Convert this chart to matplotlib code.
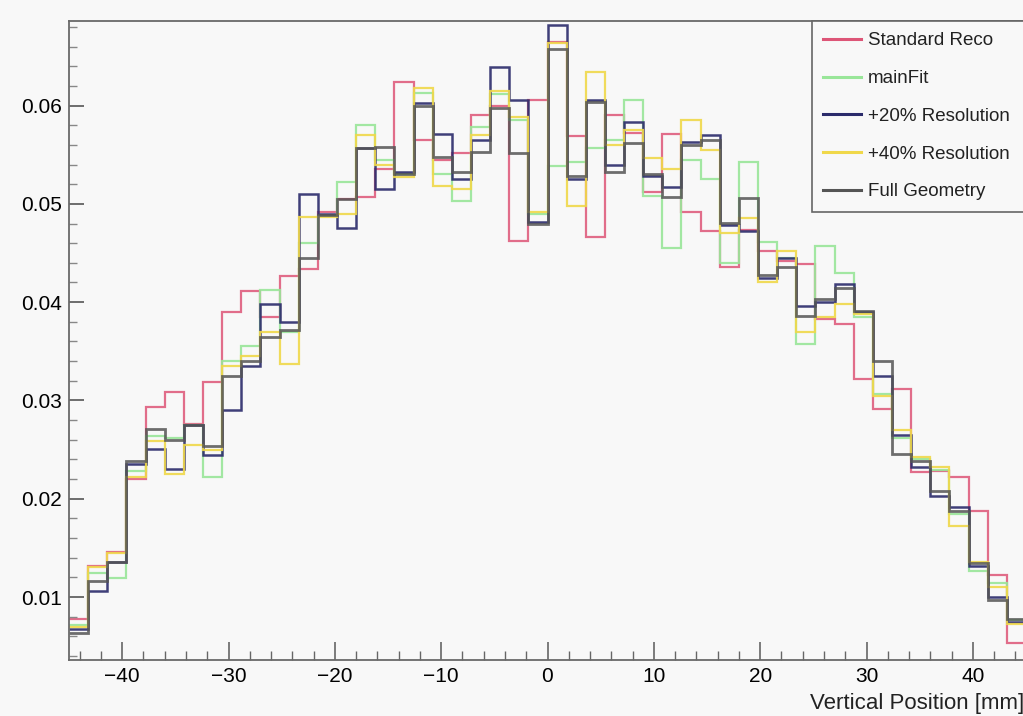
import numpy as np
import matplotlib
matplotlib.use("Agg")
import matplotlib.pyplot as plt
from matplotlib.ticker import MultipleLocator, FixedLocator

plt.rcParams['font.family'] = ['Liberation Sans', 'DejaVu Sans']

# ---- data (bin contents, 50 bins of 1.8 mm from -45 to 45) ----
x_min, x_max, n_bins = -45.0, 45.0, 50

standard_reco = [0.0078, 0.0132, 0.0146, 0.0220, 0.0293, 0.0309, 0.0276, 0.0319, 0.0390, 0.0411,
                 0.0385, 0.0427, 0.0434, 0.0492, 0.0505, 0.0507, 0.0535, 0.0624, 0.0565, 0.0545,
                 0.0552, 0.0590, 0.0600, 0.0462, 0.0606, 0.0665, 0.0569, 0.0466, 0.0590, 0.0572,
                 0.0512, 0.0571, 0.0492, 0.0472, 0.0436, 0.0473, 0.0452, 0.0442, 0.0439, 0.0383,
                 0.0378, 0.0322, 0.0291, 0.0312, 0.0227, 0.0228, 0.0222, 0.0188, 0.0122, 0.0053]

main_fit = [0.0072, 0.0124, 0.0119, 0.0228, 0.0264, 0.0262, 0.0275, 0.0222, 0.0340, 0.0355,
            0.0412, 0.0370, 0.0460, 0.0488, 0.0522, 0.0580, 0.0545, 0.0530, 0.0613, 0.0530,
            0.0503, 0.0578, 0.0612, 0.0585, 0.0490, 0.0538, 0.0543, 0.0557, 0.0565, 0.0606,
            0.0508, 0.0455, 0.0545, 0.0525, 0.0440, 0.0543, 0.0461, 0.0445, 0.0357, 0.0457,
            0.0430, 0.0385, 0.0307, 0.0262, 0.0240, 0.0229, 0.0185, 0.0127, 0.0114, 0.0077]

res_20 = [0.0068, 0.0106, 0.0136, 0.0235, 0.0251, 0.0230, 0.0275, 0.0245, 0.0290, 0.0335,
          0.0398, 0.0380, 0.0510, 0.0490, 0.0475, 0.0557, 0.0515, 0.0532, 0.0603, 0.0571,
          0.0525, 0.0565, 0.0639, 0.0606, 0.0482, 0.0682, 0.0525, 0.0606, 0.0540, 0.0583,
          0.0528, 0.0517, 0.0563, 0.0570, 0.0478, 0.0472, 0.0425, 0.0445, 0.0396, 0.0400,
          0.0418, 0.0390, 0.0325, 0.0265, 0.0232, 0.0203, 0.0192, 0.0132, 0.0100, 0.0075]

res_40 = [0.0070, 0.0131, 0.0145, 0.0222, 0.0259, 0.0225, 0.0255, 0.0250, 0.0335, 0.0345,
          0.0370, 0.0337, 0.0487, 0.0487, 0.0490, 0.0570, 0.0540, 0.0527, 0.0618, 0.0518,
          0.0515, 0.0570, 0.0615, 0.0588, 0.0492, 0.0664, 0.0498, 0.0634, 0.0560, 0.0575,
          0.0547, 0.0535, 0.0585, 0.0555, 0.0470, 0.0486, 0.0420, 0.0452, 0.0370, 0.0385,
          0.0398, 0.0388, 0.0305, 0.0270, 0.0242, 0.0232, 0.0172, 0.0136, 0.0110, 0.0073]

full_geometry = [0.0063, 0.0116, 0.0136, 0.0238, 0.0271, 0.0260, 0.0275, 0.0254, 0.0325, 0.0340,
                 0.0365, 0.0372, 0.0445, 0.0489, 0.0505, 0.0557, 0.0558, 0.0530, 0.0600, 0.0548,
                 0.0532, 0.0553, 0.0598, 0.0552, 0.0480, 0.0658, 0.0528, 0.0604, 0.0532, 0.0562,
                 0.0530, 0.0507, 0.0560, 0.0565, 0.0481, 0.0506, 0.0428, 0.0436, 0.0386, 0.0403,
                 0.0414, 0.0391, 0.0340, 0.0246, 0.0238, 0.0208, 0.0188, 0.0135, 0.0097, 0.0078]

series_labels = ["Standard Reco", "mainFit", "+20% Resolution", "+40% Resolution", "Full Geometry"]
x_ticks = [-40, -30, -20, -10, 0, 10, 20, 30, 40]
x_tick_labels = ["\u221240", "\u221230", "\u221220", "\u221210", "0", "10", "20", "30", "40"]
y_ticks = [0.01, 0.02, 0.03, 0.04, 0.05, 0.06]
y_tick_labels = ["0.01", "0.02", "0.03", "0.04", "0.05", "0.06"]
x_label = "Vertical Position [mm]"

# ---- styling ----
colors = ["#dd5577", "#99e699", "#2b2b6b", "#f0d84a", "#555555"]
widths = [1.6, 1.6, 1.8, 1.6, 2.0]
alphas = [0.85, 0.9, 0.9, 0.9, 0.85]
bg = "#f8f8f8"

W, H = 1023, 716
fig = plt.figure(figsize=(W / 100, H / 100), dpi=100, facecolor=bg)
ax = fig.add_axes([69 / W, 1 - 660 / H, (1026 - 69) / W, (660 - 21) / H], facecolor=bg)

edges = np.linspace(x_min, x_max, n_bins + 1)
all_series = [standard_reco, main_fit, res_20, res_40, full_geometry]
for vals, lab, c, lw, a in zip(all_series, series_labels, colors, widths, alphas):
    ax.stairs(vals, edges, color=c, lw=lw, alpha=a, label=lab, baseline=None)

ax.set_xlim(x_min, x_max)
ax.set_ylim(0.0036, 0.0686)

ax.xaxis.set_major_locator(FixedLocator(x_ticks))
ax.xaxis.set_minor_locator(MultipleLocator(2))
ax.yaxis.set_major_locator(FixedLocator(y_ticks))
ax.set_yticklabels(y_tick_labels)
ax.yaxis.set_minor_locator(MultipleLocator(0.002))
ax.set_xticklabels(x_tick_labels)

ax.tick_params(axis='x', which='major', direction='in', length=13, width=1.2,
               color='#666666', labelsize=15, pad=5, top=False)
ax.tick_params(axis='x', which='minor', direction='in', length=6.5, width=1.0,
               color='#666666', top=False)
ax.tick_params(axis='y', which='major', direction='in', length=11, width=1.2,
               color='#555555', labelsize=15, pad=5, right=False)
ax.tick_params(axis='y', which='minor', direction='in', length=6, width=1.0,
               color='#888888', right=False)

for side in ['left', 'bottom', 'top']:
    ax.spines[side].set_color('#6a6a6a')
    ax.spines[side].set_linewidth(1.3)
ax.spines['right'].set_visible(False)

fig.text(1024 / W, 1 - 704 / H, x_label, ha='right', va='center', fontsize=16, color='#222222')

leg = ax.legend(loc='upper left', bbox_to_anchor=(812 / W, 1 - 212 / H, 0.25, 191 / H),
                bbox_transform=fig.transFigure, mode='expand', fontsize=13.5,
                frameon=True, fancybox=False, framealpha=1.0, edgecolor='#666666',
                facecolor=bg, handlelength=2.0, handletextpad=0.4, labelspacing=1.1,
                borderpad=0.6, borderaxespad=0)
leg.get_frame().set_linewidth(1.2)
for line in leg.get_lines():
    line.set_linewidth(2.2)
    line.set_alpha(1.0)
for t in leg.get_texts():
    t.set_color('#222222')

fig.savefig("out.png", dpi=100, facecolor=bg)
